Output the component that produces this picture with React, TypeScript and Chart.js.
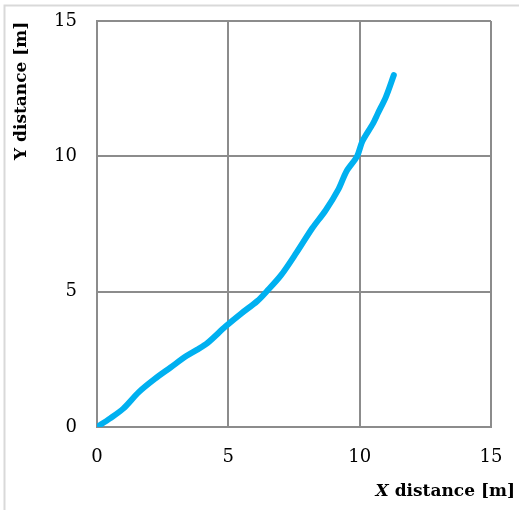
import React, { useEffect, useRef } from "react";
import { Chart, registerables } from "chart.js";

Chart.register(...registerables);

const xValues = [0, 0.5, 1.0, 1.6, 2.2, 2.8, 3.4, 3.8, 4.2, 4.9, 5.5, 6.1, 6.45, 7.0, 7.6, 8.2, 8.7, 9.2, 9.5, 9.9, 10.1, 10.5, 10.7, 11.0, 11.3];
const yValues = [0, 0.32, 0.68, 1.3, 1.78, 2.2, 2.62, 2.85, 3.1, 3.72, 4.2, 4.65, 5.0, 5.6, 6.45, 7.35, 8.0, 8.8, 9.45, 10.0, 10.55, 11.2, 11.6, 12.2, 13.0];
const tickValues = [0, 5, 10, 15];
const xTitleItalic = "X";
const xTitleRest = " distance [m]";
const yTitle = "Y distance [m]";

const FONT = '"DejaVu Serif", "Liberation Serif", serif';

export default function App() {
  const ref = useRef<HTMLCanvasElement | null>(null);
  useEffect(() => {
    const canvas = ref.current!;
    const decor = {
      id: "decor",
      afterDraw(chart: any) {
        const ctx = chart.ctx;
        ctx.save();
        ctx.strokeStyle = "#d9d9d9";
        ctx.lineWidth = 2;
        ctx.beginPath();
        ctx.moveTo(4.5, 510);
        ctx.lineTo(4.5, 5.5);
        ctx.lineTo(519, 5.5);
        ctx.stroke();
        ctx.fillStyle = "#000";
        // Y title
        ctx.save();
        ctx.translate(22, 160);
        ctx.rotate(-Math.PI / 2);
        ctx.textAlign = "left";
        ctx.textBaseline = "middle";
        ctx.font = `bold 17px ${FONT}`;
        ctx.fillText(yTitle, 0, 0);
        ctx.restore();
        // X title
        ctx.textBaseline = "alphabetic";
        ctx.textAlign = "left";
        ctx.font = `italic bold 17px ${FONT}`;
        const w = ctx.measureText(xTitleItalic).width;
        ctx.font = `bold 17px ${FONT}`;
        const w2 = ctx.measureText(xTitleRest).width;
        const start = 515 - w - w2;
        ctx.font = `italic bold 17px ${FONT}`;
        ctx.fillText(xTitleItalic, start, 496);
        ctx.font = `bold 17px ${FONT}`;
        ctx.fillText(xTitleRest, start + w, 496);
        ctx.restore();
      },
    };
    const chart = new Chart(canvas, {
      type: "scatter",
      data: {
        datasets: [
          {
            data: xValues.map((x, i) => ({ x, y: yValues[i] })),
            showLine: true,
            borderColor: "#00B0F0",
            backgroundColor: "#00B0F0",
            borderWidth: 6,
            pointRadius: 0,
            borderCapStyle: "round",
            borderJoinStyle: "round",
            tension: 0.3,
          },
        ],
      },
      options: {
        responsive: false,
        animation: false,
        layout: { padding: { top: 21, right: 28, left: 0, bottom: 0 } },
        plugins: { legend: { display: false }, tooltip: { enabled: false } },
        scales: {
          x: {
            type: "linear",
            min: 0,
            max: 15,
            afterFit: (s: any) => { s.height = 83; s.paddingLeft = 0; s.paddingRight = 0; },
            afterBuildTicks: (s: any) => { s.ticks = tickValues.map((v) => ({ value: v })); },
            grid: { color: "#8c8c8c", lineWidth: 2, drawTicks: false },
            border: { color: "#8c8c8c", width: 2 },
            ticks: { padding: 20, color: "#000", font: { family: FONT, size: 18 } },
          },
          y: {
            type: "linear",
            min: 0,
            max: 15,
            afterFit: (s: any) => { s.width = 97; s.paddingTop = 0; s.paddingBottom = 0; },
            afterBuildTicks: (s: any) => { s.ticks = tickValues.map((v) => ({ value: v })); },
            grid: { color: "#8c8c8c", lineWidth: 2, drawTicks: false },
            border: { color: "#8c8c8c", width: 2 },
            ticks: { padding: 20, color: "#000", font: { family: FONT, size: 18 } },
          },
        },
      },
      plugins: [decor],
    });
    return () => chart.destroy();
  }, []);
  return (
    <div style={{ position: "absolute", left: 0, top: 0, width: 519, height: 510, background: "#fff" }}>
      <canvas ref={ref} width={519} height={510} />
    </div>
  );
}
